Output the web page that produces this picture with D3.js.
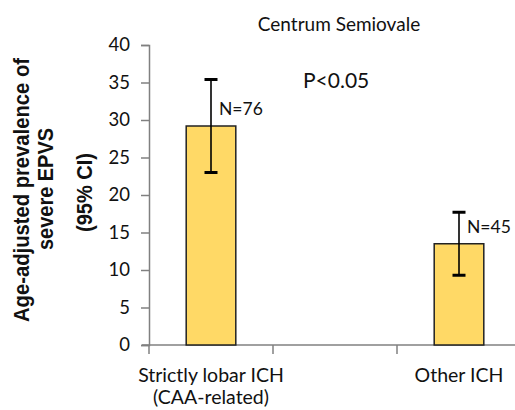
<!DOCTYPE html>
<html>
<head>
<meta charset="utf-8">
<script src="https://cdn.jsdelivr.net/npm/d3@7"></script>
<style>
  html, body { margin: 0; padding: 0; background: #fff; }
  svg { display: block; }
</style>
</head>
<body>
<svg id="chart" width="515" height="410"></svg>
<script>
// ---- data ----
const categories = ["Strictly lobar ICH", "", "Other ICH"];
const categorySubLabels = ["(CAA-related)", "", ""];
const prevalence = [29.2, null, 13.5];
const ciLow = [23.0, null, 9.3];
const ciHigh = [35.4, null, 17.7];
const nLabels = ["N=76", "", "N=45"];
const yTicks = [0, 5, 10, 15, 20, 25, 30, 35, 40];
const titleText = "Centrum Semiovale";
const pText = "P<0.05";
const yTitleLines = ["Age-adjusted prevalence of", "severe EPVS", "(95% CI)"];

// ---- layout ----
const svg = d3.select("#chart");
const labelFont = "Lato, 'Open Sans', sans-serif";
const x = d3.scaleBand().domain(d3.range(categories.length)).range([149, 521]).padding(0);
const y = d3.scaleLinear().domain([0, 40]).range([345, 45]);
const barW = x.bandwidth() * 0.4;
const axisColor = "#808080";

// y axis
const yAxis = d3.axisLeft(y).tickValues(yTicks).tickSize(8).tickPadding(11).tickFormat(d3.format("d"));
const gy = svg.append("g").attr("transform", "translate(149,0)").call(yAxis);
gy.select(".domain").attr("stroke", axisColor).attr("stroke-width", 1.5);
gy.selectAll(".tick line").attr("stroke", axisColor).attr("stroke-width", 1.5);
gy.selectAll(".tick text").attr("font-family", labelFont).attr("font-size", 18.5).attr("fill", "#111");

// x axis line
svg.append("line").attr("x1", 142).attr("x2", 515).attr("y1", y(0)).attr("y2", y(0))
  .attr("stroke", axisColor).attr("stroke-width", 1.5);
// boundary ticks
const boundaries = d3.range(categories.length + 1).map(i => i < categories.length ? x(i) : x(categories.length - 1) + x.bandwidth());
svg.selectAll(".xtick").data(boundaries).join("line").attr("class", "xtick")
  .attr("x1", d => d).attr("x2", d => d).attr("y1", y(0)).attr("y2", y(0) + 9)
  .attr("stroke", axisColor).attr("stroke-width", 1.5);

// x labels
categories.forEach((c, i) => {
  if (!c) return;
  const cx = x(i) + x.bandwidth() / 2;
  svg.append("text").attr("x", cx).attr("y", 382).attr("text-anchor", "middle")
    .attr("font-family", labelFont).attr("font-size", 19.5).attr("fill", "#111").text(c);
  if (categorySubLabels[i]) {
    svg.append("text").attr("x", cx).attr("y", 404).attr("text-anchor", "middle")
      .attr("font-family", labelFont).attr("font-size", 19.5).attr("fill", "#111").text(categorySubLabels[i]);
  }
});

// bars
const idx = d3.range(categories.length).filter(i => prevalence[i] != null);
svg.selectAll(".bar").data(idx).join("rect").attr("class", "bar")
  .attr("x", i => x(i) + (x.bandwidth() - barW) / 2)
  .attr("y", i => y(prevalence[i]))
  .attr("width", barW)
  .attr("height", i => y(0) - y(prevalence[i]))
  .attr("fill", "#FFD966").attr("stroke", "#222").attr("stroke-width", 1.5);

// error bars
const capW = 13;
idx.forEach(i => {
  const cx = x(i) + x.bandwidth() / 2;
  svg.append("line").attr("x1", cx).attr("x2", cx).attr("y1", y(ciHigh[i])).attr("y2", y(ciLow[i]))
    .attr("stroke", "#000").attr("stroke-width", 1.6);
  [ciHigh[i], ciLow[i]].forEach(v => {
    svg.append("line").attr("x1", cx - capW / 2).attr("x2", cx + capW / 2).attr("y1", y(v)).attr("y2", y(v))
      .attr("stroke", "#000").attr("stroke-width", 3);
  });
  svg.append("text").attr("x", cx + 8).attr("y", y(prevalence[i]) - 11)
    .attr("font-family", labelFont).attr("font-size", 17.5).attr("fill", "#111").text(nLabels[i]);
});

// title & p-value
svg.append("text").attr("x", 339).attr("y", 31).attr("text-anchor", "middle")
  .attr("font-family", labelFont).attr("font-size", 19).attr("fill", "#111").text(titleText);
svg.append("text").attr("x", 303).attr("y", 88)
  .attr("font-family", labelFont).attr("font-size", 21).attr("fill", "#111").text(pText);

// y title (three lines, with blank line before the last)
const yTitlePos = [
  { bx: 29, cy: 190, len: 264 },
  { bx: 53, cy: 189, len: 122 },
  { bx: 92, cy: 192.5, len: 79 }
];
yTitleLines.forEach((l, i) => {
  const p = yTitlePos[i];
  svg.append("text")
    .attr("transform", `translate(${p.bx},${p.cy}) rotate(-90)`)
    .attr("text-anchor", "middle")
    .attr("font-family", "'Liberation Sans', Arial, sans-serif")
    .attr("font-weight", "bold").attr("font-size", 22).attr("fill", "#111")
    .attr("textLength", p.len).attr("lengthAdjust", "spacingAndGlyphs")
    .text(l);
});
</script>
</body>
</html>
